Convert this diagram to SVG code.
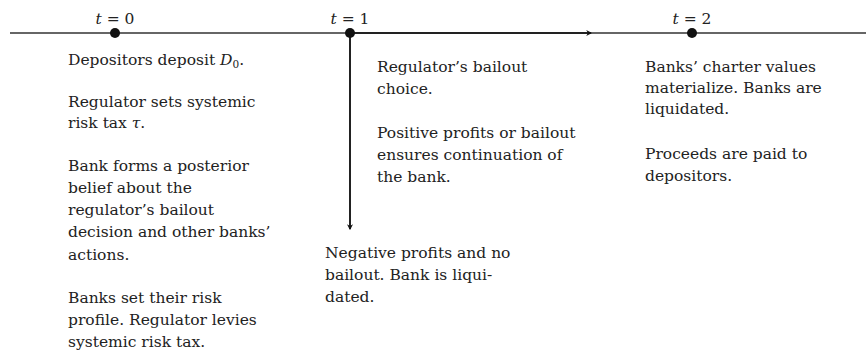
<svg xmlns="http://www.w3.org/2000/svg" width="866" height="354" viewBox="0 0 866 354">
<style>
text { font-family: "DejaVu Serif", "Liberation Serif", serif; font-size: 15.5px; fill: #222; }
.m { font-style: italic; }
.axis { stroke: #333; stroke-width: 1.3; fill: none; }
.thick { stroke: #222; stroke-width: 2; fill: none; }
.dot { fill: #111; }
</style>
<defs>
<marker id="arr" viewBox="0 0 10 10" refX="8" refY="5" markerWidth="6" markerHeight="6" markerUnits="userSpaceOnUse" orient="auto">
<path d="M0,0 L10,5 L0,10 L3,5 Z" fill="#111"/>
</marker>
</defs>
<g id="connectors">
<line class="axis" x1="10" y1="33" x2="866" y2="33"/>
<line class="thick" x1="350" y1="33" x2="591" y2="33" marker-end="url(#arr)"/>
<line class="thick" x1="350" y1="33" x2="350" y2="229" marker-end="url(#arr)"/>
</g>
<g id="t0">
<circle class="dot" cx="115" cy="33" r="5"/>
<text x="115" y="24" text-anchor="middle"><tspan class="m">t</tspan> = 0</text>
<text x="68" y="65">Depositors deposit <tspan class="m">D</tspan><tspan font-size="10.5" dy="3">0</tspan><tspan dy="-3">.</tspan></text>
<text x="68" y="106.5">Regulator sets systemic</text>
<text x="68" y="128">risk tax <tspan class="m">τ</tspan>.</text>
<text x="68" y="171">Bank forms a posterior</text>
<text x="68" y="193">belief about the</text>
<text x="68" y="215">regulator’s bailout</text>
<text x="68" y="237">decision and other banks’</text>
<text x="68" y="259.5">actions.</text>
<text x="68" y="303">Banks set their risk</text>
<text x="68" y="325">profile. Regulator levies</text>
<text x="68" y="347">systemic risk tax.</text>
</g>
<g id="t1">
<circle class="dot" cx="350" cy="33" r="5"/>
<text x="350" y="24" text-anchor="middle"><tspan class="m">t</tspan> = 1</text>
<text x="377" y="72">Regulator’s bailout</text>
<text x="377" y="94">choice.</text>
<text x="377" y="137.5">Positive profits or bailout</text>
<text x="377" y="159.5">ensures continuation of</text>
<text x="377" y="181.5">the bank.</text>
<text x="325" y="257.5">Negative profits and no</text>
<text x="325" y="279.5">bailout. Bank is liqui-</text>
<text x="325" y="301.5">dated.</text>
</g>
<g id="t2">
<circle class="dot" cx="692" cy="33" r="5"/>
<text x="692" y="24" text-anchor="middle"><tspan class="m">t</tspan> = 2</text>
<text x="645" y="71.5">Banks’ charter values</text>
<text x="645" y="92.5">materialize. Banks are</text>
<text x="645" y="113.5">liquidated.</text>
<text x="645" y="159">Proceeds are paid to</text>
<text x="645" y="181">depositors.</text>
</g>
</svg>
